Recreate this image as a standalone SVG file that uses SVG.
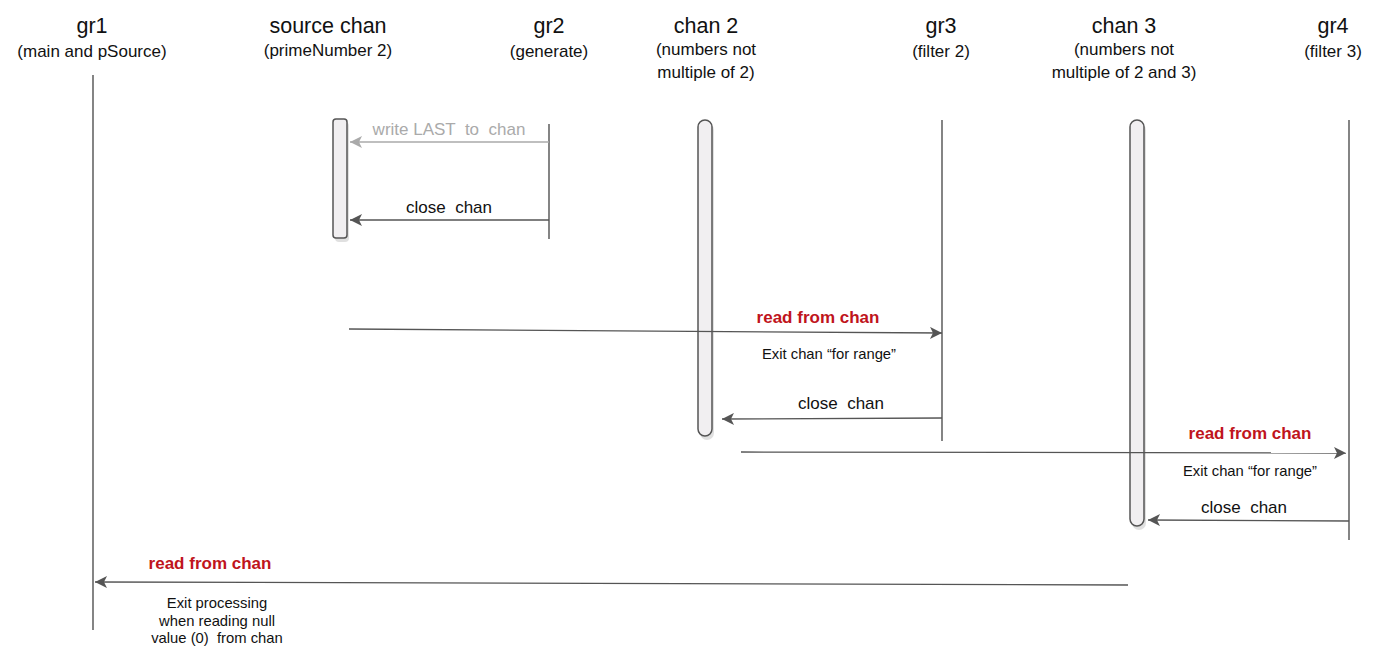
<svg xmlns="http://www.w3.org/2000/svg" width="1400" height="663" viewBox="0 0 1400 663">
<style>
text{white-space:pre}
.t{font-family:"Liberation Sans",Arial,sans-serif;font-size:21.5px;fill:#111;text-anchor:middle}
.s{font-family:"Liberation Sans",Arial,sans-serif;font-size:17px;fill:#111;text-anchor:middle}
.l{font-family:"Liberation Sans",Arial,sans-serif;font-size:17px;fill:#111;text-anchor:middle}
.g{fill:#aaa}
.r{font-family:"Liberation Sans",Arial,sans-serif;font-size:17px;font-weight:bold;fill:#c0141c;text-anchor:middle}
.e{font-family:"Liberation Sans",Arial,sans-serif;font-size:14.8px;fill:#111;text-anchor:middle}
.life{stroke:#333;stroke-width:1.2;fill:none}
.bar{fill:#f1eff1;stroke:#555;stroke-width:1.5}
.sh{fill:#000;opacity:0.12}
.msg{stroke:#555;stroke-width:1.3;fill:none}
.msgg{stroke:#aaa;stroke-width:1.3;fill:none}
</style>
<defs>
<marker id="ah" viewBox="0 0 10 10" refX="10" refY="5" markerWidth="17" markerHeight="12" markerUnits="userSpaceOnUse" orient="auto">
<path d="M0,0 L10,5 L0,10 L2.5,5 Z" fill="#555"/>
</marker>
<marker id="ahg" viewBox="0 0 10 10" refX="10" refY="5" markerWidth="17" markerHeight="12" markerUnits="userSpaceOnUse" orient="auto">
<path d="M0,0 L10,5 L0,10 L2.5,5 Z" fill="#aaa"/>
</marker>
</defs>
<rect width="1400" height="663" fill="#fff"/>
<g id="gr1">
<text class="t" x="92" y="33">gr1</text>
<text class="s" x="92" y="57">(main and pSource)</text>
<line class="life" x1="93" y1="75" x2="93" y2="630"/>
</g>
<g id="source-chan">
<text class="t" x="328" y="33">source chan</text>
<text class="s" x="328" y="56">(primeNumber 2)</text>
<rect class="sh" x="335" y="122" width="14" height="120" rx="4"/>
<rect class="bar" x="333" y="119" width="14" height="119" rx="3"/>
</g>
<g id="gr2">
<text class="t" x="549" y="33">gr2</text>
<text class="s" x="549" y="57">(generate)</text>
<line class="life" x1="549" y1="124" x2="549" y2="239"/>
</g>
<g id="chan2">
<text class="t" x="706" y="33">chan 2</text>
<text class="s" x="706" y="55">(numbers not</text>
<text class="s" x="706" y="78">multiple of 2)</text>
<rect class="sh" x="700" y="123" width="14" height="317" rx="7"/>
<rect class="bar" x="698" y="120" width="14" height="316" rx="7"/>
</g>
<g id="gr3">
<text class="t" x="941" y="33">gr3</text>
<text class="s" x="941" y="57">(filter 2)</text>
<line class="life" x1="942" y1="120" x2="942" y2="441"/>
</g>
<g id="chan3">
<text class="t" x="1124" y="33">chan 3</text>
<text class="s" x="1124" y="55">(numbers not</text>
<text class="s" x="1124" y="78">multiple of 2 and 3)</text>
<rect class="sh" x="1132" y="123" width="14" height="407" rx="7"/>
<rect class="bar" x="1130" y="120" width="14" height="406" rx="7"/>
</g>
<g id="gr4">
<text class="t" x="1333" y="33">gr4</text>
<text class="s" x="1333" y="57">(filter 3)</text>
<line class="life" x1="1349" y1="120" x2="1349" y2="540"/>
</g>
<g id="connectors">
<line class="msgg" x1="549" y1="142" x2="350" y2="142" marker-end="url(#ahg)"/>
<text class="l g" x="449" y="135">write LAST  to  chan</text>
<line class="msg" x1="549" y1="220" x2="350" y2="220" marker-end="url(#ah)"/>
<text class="l" x="449" y="213">close  chan</text>
<line class="msg" x1="349" y1="329" x2="942" y2="333" marker-end="url(#ah)"/>
<text class="r" x="818" y="323">read from chan</text>
<text class="e" x="829" y="359">Exit chan “for range”</text>
<line class="msg" x1="942" y1="418" x2="722" y2="419" marker-end="url(#ah)"/>
<text class="l" x="841" y="409">close  chan</text>
<line class="msg" x1="741" y1="452" x2="1346" y2="453" marker-end="url(#ah)"/>
<text class="r" x="1250" y="439">read from chan</text>
<text class="e" x="1250" y="476">Exit chan “for range”</text>
<line class="msg" x1="1349" y1="521" x2="1148" y2="520" marker-end="url(#ah)"/>
<text class="l" x="1244" y="513">close  chan</text>
<line class="msg" x1="1128" y1="585" x2="95" y2="582" marker-end="url(#ah)"/>
<text class="r" x="210" y="569">read from chan</text>
<text class="e" x="217" y="608">Exit processing</text>
<text class="e" x="217" y="626">when reading null</text>
<text class="e" x="217" y="643">value (0)  from chan</text>
</g>
</svg>
